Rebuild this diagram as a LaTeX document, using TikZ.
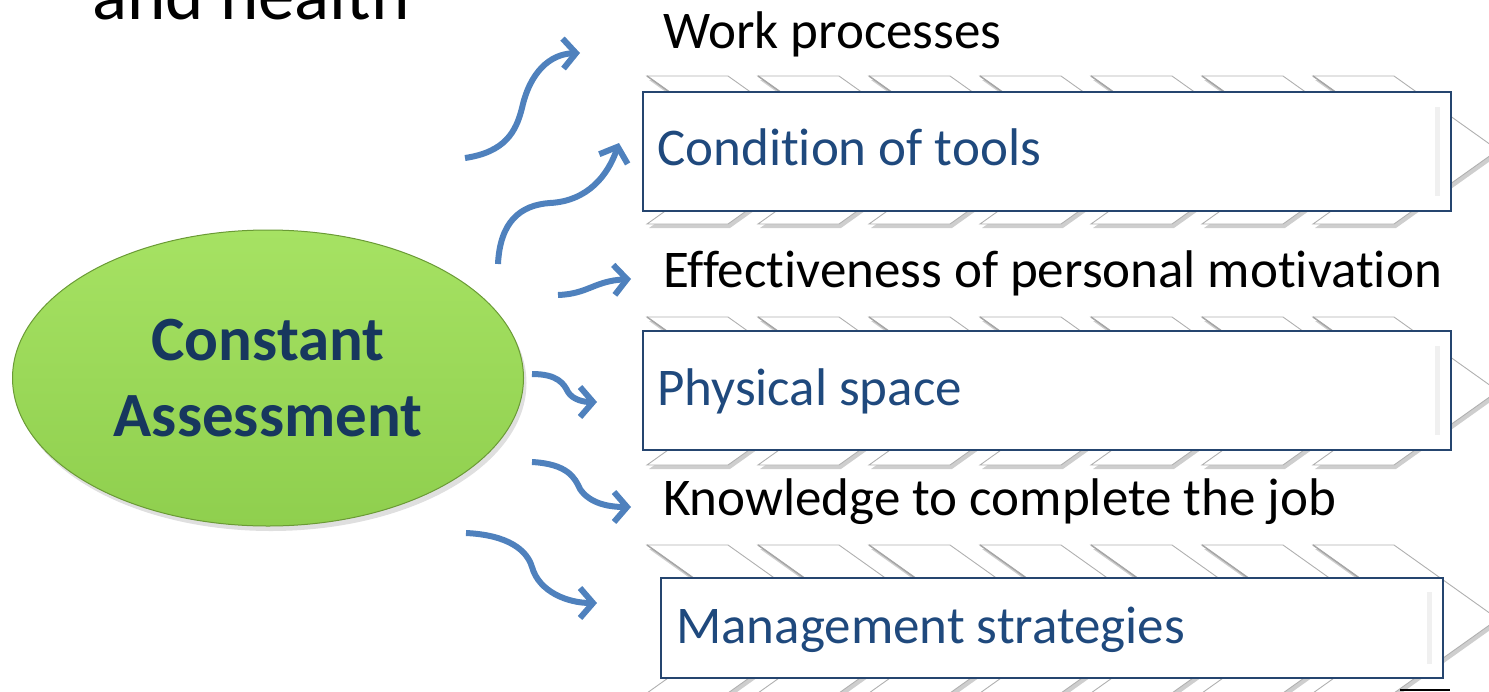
\documentclass[tikz,border=0pt]{standalone}
\usepackage{fontspec}
\setmainfont{Carlito}[Ligatures=NoCommon]
\usetikzlibrary{shapes.geometric,shadows,arrows.meta}
\definecolor{arrowblue}{HTML}{4F81BD}
\definecolor{boxtext}{HTML}{1F497D}
\definecolor{boxline}{HTML}{25456F}
\definecolor{navy}{HTML}{17375E}
\definecolor{greentop}{HTML}{A6E263}
\definecolor{greenbot}{HTML}{8FCF4E}
\definecolor{greenline}{HTML}{6A9A35}
\definecolor{chevline}{HTML}{B0B0B0}
\begin{document}
\begin{tikzpicture}[x=1pt,y=-1pt,
  chev/.style={fill=white, draw=chevline, line width=0.9pt, line join=miter,
    drop shadow={shadow xshift=2pt, shadow yshift=-4pt, opacity=0.32, fill=black!60}},
  notch/.style={draw=gray!70, line width=1.4pt},
  boxnode/.style={draw=boxline, line width=2.6pt, fill=white, rectangle, inner sep=0pt},
  bevel/.style={draw=gray!12, line width=5pt},
  boxlabel/.style={anchor=base west, inner sep=0pt, text=boxtext, font=\fontsize{53}{62}\selectfont},
  plainlabel/.style={anchor=base west, inner sep=0pt, text=black, font=\fontsize{53}{62}\selectfont},
  flow/.style={draw=arrowblue, line width=6pt, -{Straight Barb[length=13pt,width=30pt]}},
]
\useasboundingbox (0,0) rectangle (1489,691);
\clip (0,0) rectangle (1489,691);

% heading fragment
\node[anchor=base west, inner sep=0pt, font=\fontsize{73}{80}\selectfont] (head) at (92,19) {and health};

% chevron bands
\foreach \yc in {150,391,619}{
  \foreach \i in {0,...,6}{
    \pgfmathsetmacro{\xo}{647+111*\i}
    \path[chev] (\xo,\yc-74) -- (\xo+81,\yc-74) -- (\xo+185,\yc) -- (\xo+81,\yc+74)
       -- (\xo,\yc+74) -- (\xo+104,\yc) -- cycle;
    \draw[notch] (\xo,\yc-74) -- (\xo+104,\yc);
  }
}

% boxes
\node[boxnode, minimum width=808pt, minimum height=119pt] (b1) at (1047,151.5) {};
\node[boxnode, minimum width=808pt, minimum height=119pt] (b2) at (1047,390.5) {};
\node[boxnode, minimum width=782pt, minimum height=100pt] (b3) at (1052,628) {};
\draw[bevel] (1437,107) -- (1437,196);
\draw[bevel] (1437,346) -- (1437,435);
\draw[bevel] (1429,592) -- (1429,664);

% labels
\node[plainlabel] (t1) at (663,48) {Work processes};
\node[boxlabel] (t2) at (657,165) {Condition of tools};
\node[plainlabel] (t3) at (663,287) {Effectiveness of personal motivation};
\node[boxlabel] (t4) at (657,405) {Physical space};
\node[plainlabel] (t5) at (663,515) {Knowledge to complete the job};
\node[boxlabel] (t6) at (676,643) {Management strategies};

% ellipse
\node[ellipse, minimum width=511pt, minimum height=296pt, top color=greentop, bottom color=greenbot,
  draw=greenline, line width=1pt, drop shadow={shadow xshift=3pt, shadow yshift=-5pt, opacity=0.25},
  align=center, text=navy, font=\fontsize{63}{76}\selectfont\bfseries, inner sep=0pt] (ca) at (268,378)
  {Constant\\Assessment};

% arrows
\coordinate (s1) at (465,158);  \coordinate (e1) at (580,53);
\coordinate (s2) at (498,264);  \coordinate (e2) at (619,143);
\coordinate (s3) at (558,295);  \coordinate (e3) at (631,279);
\coordinate (s4) at (532,374);  \coordinate (e4) at (597,402);
\coordinate (s5) at (532,462);  \coordinate (e5) at (631,507);
\coordinate (s6) at (466,533);  \coordinate (e6) at (597,603);
\draw[flow] (s1) .. controls (505,152) and (516,132) .. (522,108) .. controls (530,72) and (550,54) .. (e1);
\draw[flow] (s2) .. controls (500,222) and (520,205) .. (550,203) .. controls (588,201) and (608,175) .. (e2);
\draw[flow] (s3) .. controls (588,294) and (594,281) .. (e3);
\draw[flow] (s4) .. controls (558,374) and (564,384) .. (568,392) .. controls (573,400) and (584,402) .. (e4);
\draw[flow] (s5) .. controls (568,464) and (575,478) .. (580,489) .. controls (590,504) and (610,507) .. (e5);
\draw[flow] (s6) .. controls (508,535) and (527,550) .. (532,567) .. controls (539,592) and (568,603) .. (e6);

% fragment at bottom right
\coordinate (f1) at (1400,690); \coordinate (f2) at (1450,690);
\draw[black, line width=2pt] (f1) -- (f2);
\end{tikzpicture}
\end{document}
